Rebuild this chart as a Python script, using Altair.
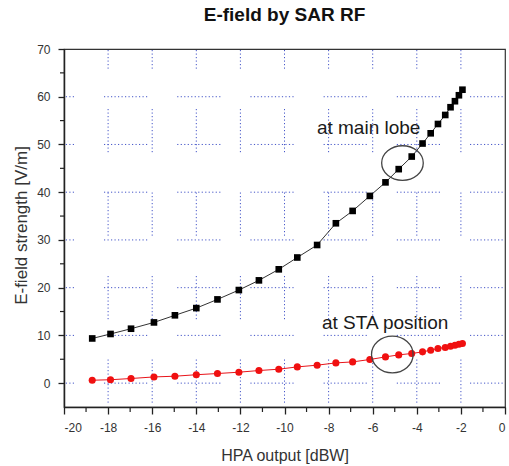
import altair as alt
import pandas as pd

# ---------------- data ----------------
hpa_output = [-18.72, -17.89, -16.96, -15.92, -14.97, -14.00, -13.04, -12.07, -11.16,
              -10.26, -9.42, -8.52, -7.67, -6.91, -6.13, -5.42, -4.82, -4.23, -3.74,
              -3.37, -3.04, -2.71, -2.47, -2.27, -2.09, -1.93]
efield_main_lobe = [9.36, 10.30, 11.40, 12.72, 14.21, 15.72, 17.54, 19.50, 21.53, 23.84,
                    26.32, 28.94, 33.49, 36.08, 39.22, 42.06, 44.83, 47.47, 50.20, 52.34,
                    54.29, 56.18, 57.80, 59.06, 60.31, 61.47]
efield_sta = [0.61, 0.71, 0.97, 1.30, 1.45, 1.76, 2.01, 2.29, 2.64, 2.92, 3.40, 3.76, 4.24,
              4.45, 4.95, 5.50, 5.92, 6.21, 6.55, 6.90, 7.26, 7.47, 7.74, 7.95, 8.16, 8.31]

x_major_ticks = [-20, -18, -16, -14, -12, -10, -8, -6, -4, -2, 0]
x_minor_ticks = [-19, -17, -15, -13, -11, -9, -7, -5, -3, -1]
y_major_ticks = [0, 10, 20, 30, 40, 50, 60, 70]
y_minor_ticks = [5, 15, 25, 35, 45, 55, 65]
x_grid = [-18, -16, -14, -12, -10, -8, -6, -4, -2]
y_grid = [0, 10, 20, 30, 40, 50, 60]

annot_labels = ["at main lobe", "at STA position"]
annot_x = [-8.53, -8.30]
annot_y = [52.1, 11.3]
ellipse_x = [-4.65, -5.11]
ellipse_y = [46.1, 6.0]

# ---------------- layout ----------------
W, H = 441, 358
FONT = "Liberation Sans"
xscale = alt.Scale(domain=[-20, 0], nice=False, zero=False)
yscale = alt.Scale(domain=[-5, 70], nice=False, zero=False)

df_main = pd.DataFrame({"x": hpa_output, "y": efield_main_lobe})
df_sta = pd.DataFrame({"x": hpa_output, "y": efield_sta})
df_gx = pd.DataFrame({"x": x_grid})
df_gy = pd.DataFrame({"y": y_grid})
df_mx = pd.DataFrame({"x": x_minor_ticks})
df_my = pd.DataFrame({"y": y_minor_ticks})
df_txt = pd.DataFrame({"x": annot_x, "y": annot_y, "t": annot_labels})
df_e1 = pd.DataFrame({"x": [ellipse_x[0]], "y": [ellipse_y[0]]})
df_e2 = pd.DataFrame({"x": [ellipse_x[1]], "y": [ellipse_y[1]]})

GRID_COLOR = "#4556c8"
dot = [1.2, 2.3]
h_dash = dot * 12 + [1.2, 30.0]
v_dash = dot * 12 + [1.2, 40.3]

xaxis = alt.Axis(values=x_major_ticks, title="HPA output [dBW]", grid=False,
                 labelExpr="toString(datum.value)",
                 labelFont=FONT, labelFontSize=12, labelColor="#333",
                 tickSize=7, tickWidth=1.3, tickColor="#222",
                 domainColor="#222", domainWidth=1.5, labelPadding=8,
                 titleFont=FONT, titleFontSize=16, titleFontWeight="normal",
                 titleColor="#333", titleBaseline="alphabetic", titleY=53,
                 titleX=W / 2, titleAlign="center")
yaxis = alt.Axis(values=y_major_ticks, title="E-field strength [V/m]", grid=False,
                 labelExpr="toString(datum.value)",
                 labelFont=FONT, labelFontSize=12, labelColor="#333",
                 tickSize=6, tickWidth=1.3, tickColor="#222",
                 domainColor="#222", domainWidth=1.5, labelPadding=8,
                 titleFont=FONT, titleFontSize=17, titleFontWeight="normal",
                 titleColor="#333", titleBaseline="alphabetic", titleX=-38,
                 titleY=176, titleAlign="center", titleAngle=-90)

X = alt.X("x:Q", scale=xscale, axis=xaxis)
Y = alt.Y("y:Q", scale=yscale, axis=yaxis)

vgrid = alt.Chart(df_gx).mark_rule(color=GRID_COLOR, strokeWidth=1, strokeDash=v_dash,
                                   strokeDashOffset=23.5).encode(
    x=X, y=alt.value(0), y2=alt.value(H))
hgrid = alt.Chart(df_gy).mark_rule(color=GRID_COLOR, strokeWidth=1, strokeDash=h_dash,
                                   strokeDashOffset=33.2).encode(
    y=Y, x=alt.value(0), x2=alt.value(W))

xminor = alt.Chart(df_mx).mark_rule(color="#222", strokeWidth=1.2).encode(
    x=X, y=alt.value(H), y2=alt.value(H + 5))
yminor = alt.Chart(df_my).mark_rule(color="#222", strokeWidth=1.2).encode(
    y=Y, x=alt.value(-4), x2=alt.value(0))

main_line = alt.Chart(df_main).mark_line(color="#333", strokeWidth=1).encode(x=X, y=Y)
main_pts = alt.Chart(df_main).mark_point(shape="square", filled=True, size=44,
                                         color="#000", opacity=1).encode(x=X, y=Y)

sta_line = alt.Chart(df_sta).mark_line(color="#e8141a", strokeWidth=1).encode(x=X, y=Y)
sta_pts = alt.Chart(df_sta).mark_point(shape="circle", filled=True, size=50,
                                       color="#f01010", opacity=1).encode(x=X, y=Y)

texts = alt.Chart(df_txt).mark_text(align="left", baseline="alphabetic", font=FONT,
                                    fontSize=19, color="#1a1a1a").encode(
    x=X, y=Y, text="t:N")

e1_path = "M -1 0 A 1 0.834 0 1 0 1 0 A 1 0.834 0 1 0 -1 0 Z"
e2_path = "M -1 0 A 1 0.88 0 1 0 1 0 A 1 0.88 0 1 0 -1 0 Z"
ell1 = alt.Chart(df_e1).mark_point(shape=e1_path, filled=False, size=41.6 ** 2,
                                   color="#444", strokeWidth=1.3, opacity=1).encode(x=X, y=Y)
ell2 = alt.Chart(df_e2).mark_point(shape=e2_path, filled=False, size=41.6 ** 2,
                                   color="#444", strokeWidth=1.3, opacity=1).encode(x=X, y=Y)

chart = alt.layer(
    vgrid, hgrid, xminor, yminor, main_line, sta_line, main_pts, sta_pts, texts, ell1, ell2
).properties(
    width=W, height=H,
    autosize="none",
    padding={"left": 64, "top": 49, "right": 4, "bottom": 59},
    title=alt.TitleParams("E-field by SAR RF", font=FONT, fontSize=19, fontWeight="bold",
                          color="#111", anchor="middle", offset=18),
).configure_view(stroke="#333", strokeWidth=1.2)

chart.save("out.html", embed_options={"renderer": "svg", "actions": False})
